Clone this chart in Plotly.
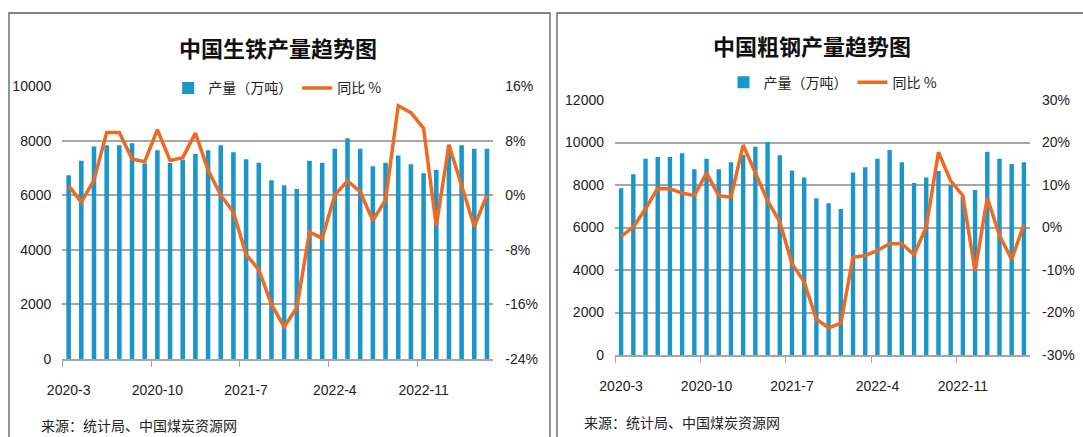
import plotly.graph_objects as go

# ---------------- data ----------------
categories = [
    "2020-3", "2020-4", "2020-5", "2020-6", "2020-7", "2020-8", "2020-9", "2020-10", "2020-11", "2020-12",
    "2021-3", "2021-4", "2021-5", "2021-6", "2021-7", "2021-8", "2021-9", "2021-10", "2021-11", "2021-12",
    "2022-3", "2022-4", "2022-5", "2022-6", "2022-7", "2022-8", "2022-9", "2022-10", "2022-11", "2022-12",
    "2023-3", "2023-4", "2023-5", "2023-6",
]

pig_iron_output = [6728, 7266, 7780, 7829, 7829, 7902, 7160, 7645, 7180, 7300,
                   7511, 7645, 7829, 7572, 7315, 7193, 6544, 6361, 6226, 7266,
                   7193, 7706, 8086, 7706, 7058, 7193, 7450, 7131, 6801, 6936,
                   7829, 7829, 7706, 7706]
pig_iron_yoy = [1.4, -1.0, 2.2, 9.2, 9.2, 5.3, 4.9, 9.6, 5.1, 5.5,
                9.1, 3.7, 0.0, -2.5, -8.7, -10.9, -16.0, -19.3, -16.5, -5.4,
                -6.3, 0.0, 2.1, 0.5, -3.7, -0.7, 13.1, 12.1, 9.8, -4.5,
                7.4, 1.5, -4.6, 0.0]

steel_output = [7846, 8504, 9240, 9318, 9318, 9491, 8739, 9240, 8739, 9068,
                9420, 9804, 10023, 9397, 8677, 8348, 7377, 7142, 6876, 8583,
                8833, 9240, 9648, 9068, 8097, 8348, 8660, 7987, 7460, 7768,
                9569, 9240, 8990, 9068]
steel_yoy = [-2.1, 0.1, 4.4, 9.2, 9.1, 8.1, 7.5, 12.8, 7.5, 7.1,
             19.4, 13.0, 6.3, 1.3, -8.5, -12.8, -21.6, -23.6, -22.5, -7.0,
             -6.6, -5.4, -3.8, -3.8, -6.4, 0.1, 17.7, 11.0, 7.5, -10.3,
             7.0, -1.9, -7.5, 0.7]

left_pct_ticks = [-24, -16, -8, 0, 8, 16]
left_pct_labels = ["-24%", "-16%", "-8%", "0%", "8%", "16%"]
right_pct_ticks = [-30, -20, -10, 0, 10, 20, 30]
right_pct_labels = ["-30%", "-20%", "-10%", "0%", "10%", "20%", "30%"]

left_title = "中国生铁产量趋势图"
right_title = "中国粗钢产量趋势图"
bar_name = "产量（万吨）"
line_name = "同比 %"
source_text = "来源：统计局、中国煤炭资源网"

# ---------------- styling ----------------
W, H = 1083, 437
def px(x):
    return x / W
def py(y):
    return 1 - y / H

BLUE = "#1A96C9"
ORANGE = "#EC6A21"
GRID = "#A6A6A6"
TEXT = "#222222"
FRAME = "#5A5A5A"
NUM_FONT = "Liberation Sans Narrow, Liberation Sans, Arial, sans-serif"
CJK_FONT = "Noto Sans CJK SC, sans-serif"

fig = go.Figure()
fig.add_trace(go.Bar(x=categories, y=pig_iron_output, name=bar_name, marker_color=BLUE,
                     marker_line_width=0, xaxis="x", yaxis="y", legend="legend"))
fig.add_trace(go.Scatter(x=categories, y=pig_iron_yoy, name=line_name, mode="lines",
                         line=dict(color=ORANGE, width=3.5), xaxis="x", yaxis="y2", legend="legend"))
fig.add_trace(go.Bar(x=categories, y=steel_output, name=bar_name, marker_color=BLUE,
                     marker_line_width=0, xaxis="x2", yaxis="y3", legend="legend2"))
fig.add_trace(go.Scatter(x=categories, y=steel_yoy, name=line_name, mode="lines",
                         line=dict(color=ORANGE, width=3.5), xaxis="x2", yaxis="y4", legend="legend2"))

num_font = dict(family=NUM_FONT, size=14, color=TEXT)

def xaxis_cfg(domain, anchor):
    return dict(domain=domain, anchor=anchor, type="category", range=[-0.5, 33.5],
                tickmode="linear", tick0=0, dtick=7, tickson="boundaries", tickangle=0,
                ticks="outside", ticklen=6, tickwidth=1.3, tickcolor=GRID,
                showline=True, linecolor=GRID, linewidth=1.5, showgrid=False,
                tickfont=num_font, ticklabelstandoff=17, fixedrange=True, automargin=False)

def yleft_cfg(domain, anchor, rng, dt):
    return dict(domain=domain, anchor=anchor, range=rng, dtick=dt, tick0=0, tickformat="d",
                showgrid=True, gridcolor=GRID, gridwidth=1.5, zeroline=False,
                showline=False, ticks="", tickfont=num_font, ticklabelstandoff=10,
                automargin=False, fixedrange=True)

def yright_cfg(over, anchor, rng, tv, tt):
    return dict(overlaying=over, side="right", anchor=anchor, range=rng,
                tickmode="array", tickvals=tv, ticktext=tt,
                showgrid=False, zeroline=False, showline=False, ticks="",
                tickfont=num_font, ticklabelstandoff=11, automargin=False, fixedrange=True)

fig.update_layout(
    width=W, height=H,
    margin=dict(l=0, r=0, t=0, b=0, pad=0),
    autosize=False,
    paper_bgcolor="white", plot_bgcolor="white",
    bargap=0.64,
    showlegend=True,
    xaxis=xaxis_cfg([px(62.3), px(493.3)], "y"),
    yaxis=yleft_cfg([py(359), py(86)], "x", [0, 10000], 2000),
    yaxis2=yright_cfg("y", "x", [-24, 16], left_pct_ticks, left_pct_labels),
    xaxis2=xaxis_cfg([px(615), px(1030)], "y3"),
    yaxis3=yleft_cfg([py(355), py(100)], "x2", [0, 12000], 2000),
    yaxis4=yright_cfg("y3", "x2", [-30, 30], right_pct_ticks, right_pct_labels),
    legend=dict(x=px(277.7), y=py(88.3), xanchor="center", yanchor="middle",
                orientation="h", bgcolor="white", bordercolor="white", borderwidth=8,
                font=dict(family=CJK_FONT, size=14, color=TEXT), itemwidth=30),
    legend2=dict(x=px(833), y=py(82.7), xanchor="center", yanchor="middle",
                 orientation="h", bgcolor="rgba(255,255,255,0)",
                 font=dict(family=CJK_FONT, size=14, color=TEXT), itemwidth=30),
    shapes=[
        dict(type="rect", xref="paper", yref="paper", x0=px(9), x1=px(550), y0=py(13), y1=-0.3,
             line=dict(color=FRAME, width=1.3), layer="below"),
        dict(type="rect", xref="paper", yref="paper", x0=px(557), x1=1.3, y0=py(13), y1=-0.3,
             line=dict(color=FRAME, width=1.3), layer="below"),
    ],
    annotations=[
        dict(text="<b>" + left_title + "</b>", xref="paper", yref="paper", x=px(278.4), y=py(47),
             xanchor="center", yanchor="middle", showarrow=False,
             font=dict(family=CJK_FONT, size=22, color="#111111")),
        dict(text="<b>" + right_title + "</b>", xref="paper", yref="paper", x=px(812.4), y=py(45),
             xanchor="center", yanchor="middle", showarrow=False,
             font=dict(family=CJK_FONT, size=22, color="#111111")),
        dict(text=source_text, xref="paper", yref="paper", x=px(39), y=py(425),
             xanchor="left", yanchor="middle", showarrow=False,
             font=dict(family=CJK_FONT, size=14, color=TEXT)),
        dict(text=source_text, xref="paper", yref="paper", x=px(582), y=py(422),
             xanchor="left", yanchor="middle", showarrow=False,
             font=dict(family=CJK_FONT, size=14, color=TEXT)),
    ],
)

fig.write_html(
    "out.html",
    config={"displayModeBar": False},
    post_script="document.body.style.margin='0';document.documentElement.style.overflow='hidden';",
)
